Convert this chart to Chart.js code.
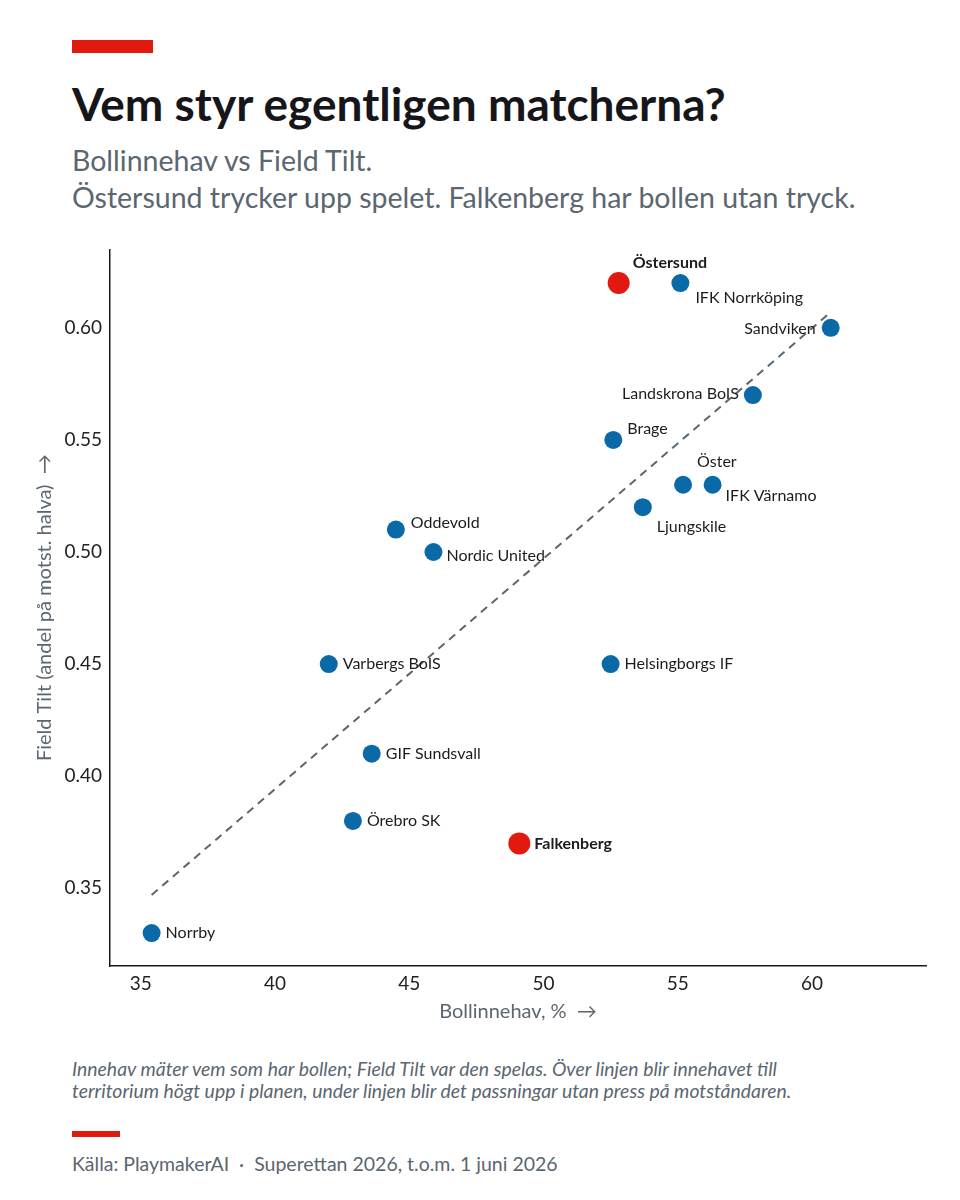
<!DOCTYPE html>
<html lang="sv">
<head>
<meta charset="utf-8">
<script src="https://cdn.jsdelivr.net/npm/chart.js@4.4.1/dist/chart.umd.min.js"></script>
<style>
  body { margin: 0; background: #fff; font-family: Lato, "Noto Sans", sans-serif; }
  #page { position: relative; width: 960px; height: 1200px; overflow: hidden; }
  .bar { position: absolute; background: #e2190f; }
  .txt { position: absolute; left: 72px; white-space: nowrap; }
  #title { top: 78px; font-size: 46px; line-height: 52px; font-weight: 700; color: #16161a; }
  #subtitle { top: 142px; font-size: 28.5px; line-height: 37px; color: #5b6670; }
  #note { top: 1058px; font-size: 19.4px; line-height: 22px; font-style: italic; color: #5b6670; }
  #source { top: 1153px; font-size: 19.5px; line-height: 22px; color: #5b6670; }
  #chartBox { position: absolute; left: 0; top: 230px; width: 960px; height: 810px; }
</style>
</head>
<body>
<div id="page">
  <div class="bar" style="left:72px; top:40px; width:81px; height:13px;"></div>
  <div class="txt" id="title">Vem styr egentligen matcherna?</div>
  <div class="txt" id="subtitle">Bollinnehav vs Field Tilt.<br>Östersund trycker upp spelet. Falkenberg har bollen utan tryck.</div>
  <div id="chartBox"><canvas id="myChart"></canvas></div>
  <div class="txt" id="note">Innehav mäter vem som har bollen; Field Tilt var den spelas. Över linjen blir innehavet till<br>territorium högt upp i planen, under linjen blir det passningar utan press på motståndaren.</div>
  <div class="bar" style="left:72px; top:1131px; width:48px; height:6px;"></div>
  <div class="txt" id="source">Källa: PlaymakerAI &nbsp;·&nbsp; Superettan 2026, t.o.m. 1 juni 2026</div>
</div>

<script>
// data
const teams = [
  'Östersund', 'IFK Norrköping', 'Sandviken', 'Landskrona BoIS', 'Brage',
  'Öster', 'IFK Värnamo', 'Ljungskile', 'Oddevold', 'Nordic United',
  'Varbergs BoIS', 'Helsingborgs IF', 'GIF Sundsvall', 'Örebro SK',
  'Falkenberg', 'Norrby'
];
const possession = [52.8, 55.1, 60.7, 57.8, 52.6, 55.2, 56.3, 53.7, 44.5, 45.9, 42.0, 52.5, 43.6, 42.9, 49.1, 35.4];
const fieldTilt  = [0.62, 0.62, 0.60, 0.57, 0.55, 0.53, 0.53, 0.52, 0.51, 0.50, 0.45, 0.45, 0.41, 0.38, 0.37, 0.33];
const highlighted = ['Östersund', 'Falkenberg'];

// trend line end points
const trendX = [35.4, 60.7];
const trendY = [0.347, 0.607];

const xTicks = [35, 40, 45, 50, 55, 60];
const yTicks = [0.35, 0.40, 0.45, 0.50, 0.55, 0.60];

const BLUE = '#0a69a7';
const RED = '#e2190f';
const GREY = '#5b6670';

// where each label sits relative to its dot: [dx, dy, align]
const labelPlacement = {
  'Östersund':       [14, -20, 'left'],
  'IFK Norrköping':  [15, 15, 'left'],
  'Sandviken':       [-15, 1, 'right'],
  'Landskrona BoIS': [-14, -1, 'right'],
  'Brage':           [14, -11, 'left'],
  'Öster':           [14, -23, 'left'],
  'IFK Värnamo':     [13, 11, 'left'],
  'Ljungskile':      [14, 20, 'left'],
  'Oddevold':        [15, -7, 'left'],
  'Nordic United':   [13, 4, 'left'],
  'Falkenberg':      [15, 0, 'left']
};

const points = teams.map((t, i) => ({ x: possession[i], y: fieldTilt[i], name: t }));
const normalPts = points.filter(p => !highlighted.includes(p.name));
const redPts = points.filter(p => highlighted.includes(p.name));
const trend = trendX.map((x, i) => ({ x: x, y: trendY[i] }));

const pointLabels = {
  id: 'pointLabels',
  afterDatasetsDraw(chart) {
    const ctx = chart.ctx;
    chart.data.datasets.forEach((ds, i) => {
      if (!ds.withLabels) return;
      const meta = chart.getDatasetMeta(i);
      meta.data.forEach((el, j) => {
        const name = ds.data[j].name;
        const p = labelPlacement[name] || [14, 0, 'left'];
        ctx.save();
        ctx.font = (ds.boldLabels ? '700 ' : '400 ') + '16px Lato, "Noto Sans", sans-serif';
        ctx.fillStyle = '#1c1c1c';
        ctx.textAlign = p[2];
        ctx.textBaseline = 'middle';
        ctx.fillText(name, el.x + p[0], el.y + p[1]);
        ctx.restore();
      });
    });
  }
};

const ctx = document.getElementById('myChart');
new Chart(ctx, {
  type: 'scatter',
  data: {
    datasets: [
      {
        data: redPts,
        backgroundColor: RED,
        borderWidth: 0,
        pointRadius: 11,
        withLabels: true,
        boldLabels: true
      },
      {
        data: normalPts,
        backgroundColor: BLUE,
        borderWidth: 0,
        pointRadius: 9,
        withLabels: true
      },
      {
        type: 'line',
        data: trend,
        borderColor: GREY,
        borderWidth: 2,
        borderDash: [8, 6],
        pointRadius: 0,
        fill: false
      }
    ]
  },
  options: {
    responsive: true,
    maintainAspectRatio: false,
    animation: false,
    events: [],
    layout: { padding: { top: 17, right: 34, left: 0, bottom: 0 } },
    plugins: { legend: { display: false }, tooltip: { enabled: false } },
    scales: {
      x: {
        type: 'linear',
        min: 33.85,
        max: 64.25,
        afterBuildTicks: s => { s.ticks = xTicks.map(v => ({ value: v })); },
        afterFit: s => { s.height = 74; },
        grid: { display: false, drawTicks: false },
        border: { display: true, color: '#1a1a1a', width: 1.5 },
        ticks: { color: '#222', font: { family: 'Lato', size: 19 }, padding: 6, maxRotation: 0 },
        title: {
          display: true,
          text: 'Bollinnehav, %  →',
          color: GREY,
          font: { family: 'Lato', size: 20 },
          padding: { top: 0, bottom: 16 }
        }
      },
      y: {
        type: 'linear',
        min: 0.3153,
        max: 0.635,
        afterBuildTicks: s => { s.ticks = yTicks.map(v => ({ value: v })); },
        afterFit: s => { s.width = 110; },
        grid: { display: false, drawTicks: false },
        border: { display: true, color: '#1a1a1a', width: 1.5 },
        ticks: {
          color: '#222',
          font: { family: 'Lato', size: 19 },
          padding: 8,
          callback: v => v.toFixed(2)
        },
        title: {
          display: true,
          text: 'Field Tilt (andel på motst. halva)  →',
          color: GREY,
          font: { family: 'Lato', size: 20 },
          padding: { top: 33, bottom: 0 }
        }
      }
    }
  },
  plugins: [pointLabels]
});
</script>
</body>
</html>
